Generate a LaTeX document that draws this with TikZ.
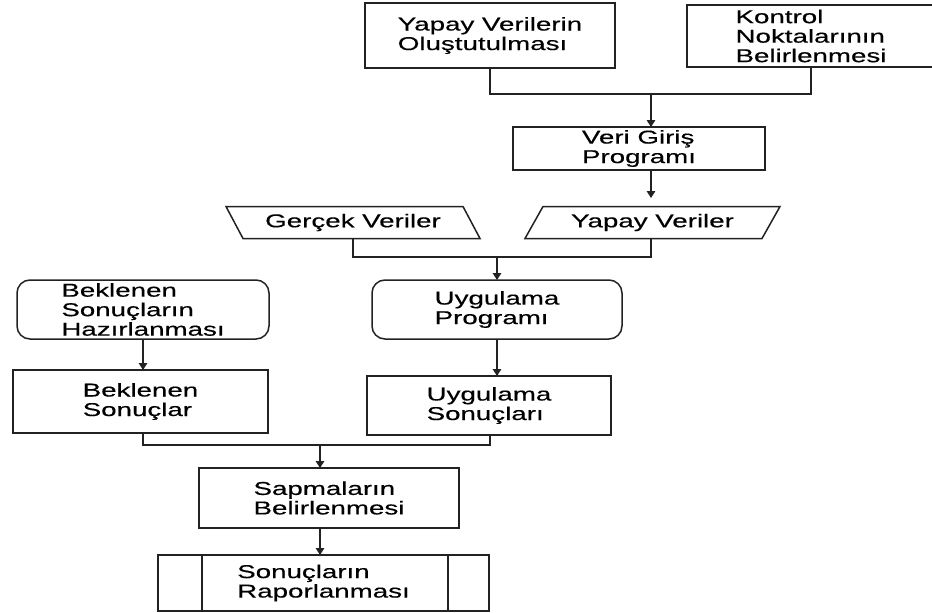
\documentclass[tikz,border=0pt]{standalone}
\usepackage{fontspec}
\setmainfont{Liberation Sans}[FakeStretch=1.49,FakeBold=0.4]
\usetikzlibrary{arrows.meta}
\definecolor{linec}{HTML}{222222}
\begin{document}
\begin{tikzpicture}[x=1pt,y=-1pt,
  every node/.style={font=\fontsize{18.6}{19.5}\selectfont, align=left,
    inner sep=0pt, outer sep=0pt, text=black},
  link/.style={draw=linec, line width=1.5pt},
  arrowlink/.style={link, -{Triangle[length=7pt,width=8.5pt]}},
  boxnode/.style={link, rectangle},
  roundnode/.style={link, rectangle, rounded corners=13pt},
  ionode/.style={rectangle, minimum height=32pt}]
\fill[white] (0,0) rectangle (932,613);
\useasboundingbox (0,0) rectangle (932,613);

% top row: preparation steps
\node[boxnode, minimum width=250pt, minimum height=65pt] (yv) at (490,35.5)
  {Yapay Verilerin\\Oluştutulması};
\node[boxnode, minimum width=248pt, minimum height=62pt] (kn) at (811,36)
  {Kontrol\\Noktalarının\\Belirlenmesi};

% data entry program
\node[boxnode, minimum width=252pt, minimum height=43pt] (vg) at (639,148.5)
  {Veri Giriş\\Programı};

% input data (parallelograms)
\node[ionode, minimum width=237pt] (gv) at (353,222.5) {Gerçek Veriler};
\node[ionode, minimum width=237pt] (yd) at (652.5,222.5) {Yapay Veriler};
\draw[link] ([xshift=-8.5pt]gv.north west) -- ([xshift=-8.5pt]gv.north east)
  -- ([xshift=8.5pt]gv.south east) -- ([xshift=8.5pt]gv.south west) -- cycle;
\draw[link] ([xshift=9pt]yd.north west) -- ([xshift=9pt]yd.north east)
  -- ([xshift=-9pt]yd.south east) -- ([xshift=-9pt]yd.south west) -- cycle;

% programs
\node[roundnode, minimum width=252pt, minimum height=59pt] (bh) at (143,309.5)
  {Beklenen\\Sonuçların\\Hazırlanması};
\node[roundnode, minimum width=250pt, minimum height=59pt] (up) at (497,309.5)
  {Uygulama\\Programı};

% results
\node[boxnode, minimum width=255pt, minimum height=63pt] (bs) at (140.5,401.5)
  {Beklenen\\Sonuçlar};
\node[boxnode, minimum width=244pt, minimum height=59pt] (us) at (489,405.5)
  {Uygulama\\Sonuçları};

% comparison and report
\node[boxnode, minimum width=260pt, minimum height=60pt] (sb) at (329,498)
  {Sapmaların\\Belirlenmesi};
\node[boxnode, minimum width=331pt, minimum height=56pt] (sr) at (323.5,583)
  {Sonuçların\\Raporlanması};
\draw[link] ([xshift=44pt]sr.north west) -- ([xshift=44pt]sr.south west);
\draw[link] ([xshift=-41pt]sr.north east) -- ([xshift=-41pt]sr.south east);

% junction points of the connectors
\coordinate (m1) at (651,94);
\coordinate (m2) at (651,198);
\coordinate (m3) at (497,257);
\coordinate (m4) at (320,445);

% connectors
\draw[link] (yv.south) |- (m1) -| (kn.south);
\draw[arrowlink] (m1) -- (m1 |- vg.north);
\draw[arrowlink] (m2 |- vg.south) -- (m2);
\draw[link] (gv.south) |- (m3) -| ([xshift=-1.5pt]yd.south);
\draw[arrowlink] (m3) -- (m3 |- up.north);
\draw[arrowlink] (up.south) -- (up.south |- us.north);
\draw[arrowlink] (bh.south) -- (bh.south |- bs.north);
\draw[link] ([xshift=2.5pt]bs.south) |- (m4) -| ([xshift=1pt]us.south);
\draw[arrowlink] (m4) -- (m4 |- sb.north);
\draw[arrowlink] (m4 |- sb.south) -- (m4 |- sr.north);
\end{tikzpicture}
\end{document}
